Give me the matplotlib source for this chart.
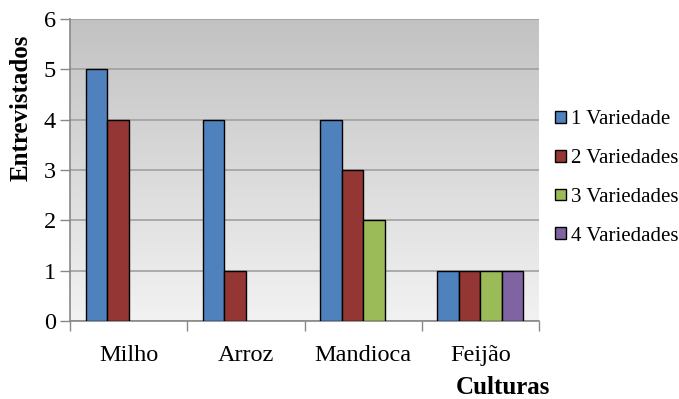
import numpy as np
import matplotlib.pyplot as plt
from matplotlib.colors import LinearSegmentedColormap
from matplotlib.patches import Patch

plt.rcParams['font.family'] = ['Liberation Serif', 'DejaVu Serif']

culturas = ["Milho", "Arroz", "Mandioca", "Feijão"]
series = ["1 Variedade", "2 Variedades", "3 Variedades", "4 Variedades"]
v1 = [5, 4, 4, 1]
v2 = [4, 1, 3, 1]
v3 = [0, 0, 2, 1]
v4 = [0, 0, 0, 1]
cores = ["#4F81BD", "#943634", "#9BBB59", "#8064A2"]

fig = plt.figure(figsize=(6.79, 3.99), dpi=100)
ax = fig.add_axes([70 / 679, 1 - 321 / 399, 469 / 679, 302 / 399])

# fundo em degradê (cinza em cima, quase branco embaixo)
grad = np.linspace(0, 1, 256).reshape(-1, 1)
ax.imshow(grad, extent=[0, 1, 0, 1], transform=ax.transAxes, aspect='auto',
          cmap=LinearSegmentedColormap.from_list('fundo', ['#c2c2c2', '#f2f2f2']),
          zorder=0)

x = np.arange(len(culturas))
w = 0.183
for i, (vals, cor) in enumerate(zip([v1, v2, v3, v4], cores)):
    pos = x - 1.5 * w + i * w
    for p, v in zip(pos, vals):
        if v > 0:
            ax.bar(p, v, width=w, color=cor, edgecolor='black', linewidth=1.0, zorder=3)

ax.set_xlim(-0.5, 3.5)
ax.set_ylim(0, 6)
ax.set_yticks(range(7))
ax.yaxis.grid(True, color='#a0a0a0', linewidth=1.2, zorder=1)
ax.set_axisbelow(True)

# marcas entre as categorias, rótulos no centro de cada grupo
ax.set_xticks([-0.5, 0.5, 1.5, 2.5, 3.5], minor=False)
ax.set_xticklabels([])
ax.set_xticks(x, minor=True)
ax.set_xticklabels(culturas, minor=True, fontsize=17.5)
ax.tick_params(axis='x', which='minor', length=0, pad=17)
ax.tick_params(axis='x', which='major', length=7, color='#888888', width=1)
ax.tick_params(axis='y', length=7, color='#888888', width=1, labelsize=17.5, pad=3)

for s in ['top', 'right']:
    ax.spines[s].set_visible(False)
for s in ['left', 'bottom']:
    ax.spines[s].set_color('#888888')
    ax.spines[s].set_linewidth(1.2)

ax.set_ylabel("Entrevistados", fontsize=18, fontweight='bold')
ax.yaxis.set_label_coords(-0.08, 0.705)
fig.text(503 / 679, 1 - 388 / 399, "Culturas", fontsize=18, fontweight='bold',
         ha='center', va='center')

handles = [Patch(facecolor=c, edgecolor='black', linewidth=1) for c in cores]
fig.legend(handles, series, loc='center left', bbox_to_anchor=(547 / 679, 1 - 178 / 399),
           frameon=False, fontsize=15, handlelength=0.5, handleheight=0.5,
           handletextpad=0.25, labelspacing=0.95, borderaxespad=0)

fig.savefig("out.png", dpi=100)
